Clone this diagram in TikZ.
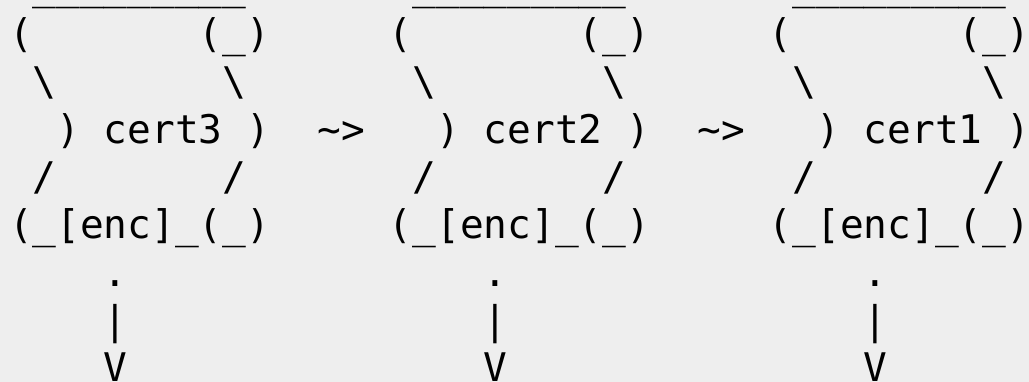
\documentclass[tikz,border=0pt]{standalone}
\usepackage{fontspec}
\newfontfamily\asciifont{DejaVu Sans Mono}
\definecolor{bgc}{HTML}{EEEEEE}
\newcommand\bs{\textbackslash}
\newcommand\us{\_}
\newcommand\tl{\textasciitilde}
\newcommand\gap[1]{\kern#1\fontcharwd\font`0\relax}
\newcommand\nineus{\us\us\us\us\us\us\us\us\us}
\tikzset{
  asciiline/.style={anchor=base west, inner sep=0pt, outer sep=0pt, text=black,
    font={\asciifont\fontsize{29.586pt}{35pt}\selectfont}}
}
\begin{document}
\begin{tikzpicture}[x=0.75pt,y=-0.75pt]
\fill[bgc] (0,0) rectangle (1029,382);
\useasboundingbox (0,0) rectangle (1029,382);
\node[asciiline] (r1) at (9,-0.25) {\gap{1}\nineus\gap{7}\nineus\gap{7}\nineus};
\node[asciiline] (r2) at (9,47.5) {(\gap{7}(\us)\gap{5}(\gap{7}(\us)\gap{5}(\gap{7}(\us)};
\node[asciiline] (r3) at (9,95.25) {\gap{1}\bs\gap{7}\bs\gap{7}\bs\gap{7}\bs\gap{7}\bs\gap{7}\bs};
\node[asciiline] (r4) at (9,143) {\gap{2})\gap{1}cert3\gap{1})\gap{2}\tl>\gap{3})\gap{1}cert2\gap{1})\gap{2}\tl>\gap{3})\gap{1}cert1\gap{1})};
\node[asciiline] (r5) at (9,190.75) {\gap{1}/\gap{7}/\gap{7}/\gap{7}/\gap{7}/\gap{7}/};
\node[asciiline] (r6) at (9,238.5) {(\us[enc]\us(\us)\gap{5}(\us[enc]\us(\us)\gap{5}(\us[enc]\us(\us)};
\node[asciiline] (r7) at (9,286.25) {\gap{4}.\gap{15}.\gap{15}.};
\node[asciiline] (r8) at (9,334) {\gap{4}|\gap{15}|\gap{15}|};
\node[asciiline] (r9) at (9,381.75) {\gap{4}V\gap{15}V\gap{15}V};
\end{tikzpicture}
\end{document}
